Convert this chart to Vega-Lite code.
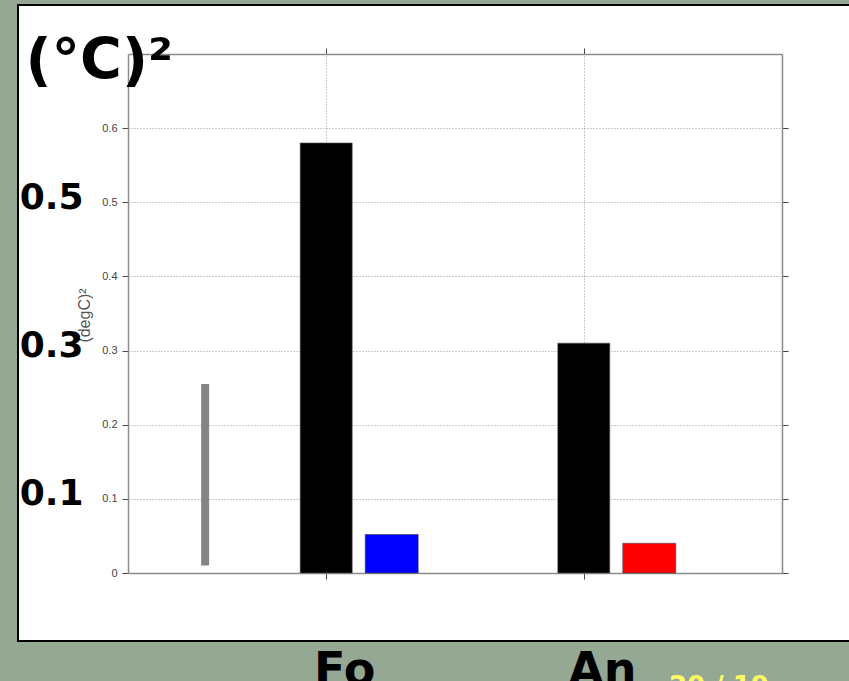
{
  "$schema": "https://vega.github.io/schema/vega-lite/v6.json",
  "width": 835,
  "height": 636,
  "autosize": {"type": "none"},
  "padding": {"left": 18, "top": 5, "right": 0, "bottom": 40},
  "background": "#94a894",
  "config": {
    "view": {"fill": "white", "stroke": "black", "strokeWidth": 2},
    "axis": {"labelOverlap": false, "labelFlush": false}
  },
  "title": {
    "text": "20 / 19",
    "orient": "bottom",
    "anchor": "end",
    "offset": -19,
    "dx": -84,
    "baseline": "top",
    "fontSize": 26,
    "font": "DejaVu Sans",
    "fontWeight": "bold",
    "color": "#ffff66"
  },
  "datasets": {
    "totals": [
      {"region": "Fo", "pos": 1, "value": 0.58},
      {"region": "An", "pos": 2, "value": 0.31}
    ],
    "parts": [
      {"region": "Fo", "pos": 1, "value": 0.052},
      {"region": "An", "pos": 2, "value": 0.04}
    ],
    "spread": [
      {"pos": 0.53, "low": 0.01, "high": 0.255}
    ]
  },
  "layer": [
    {
      "data": {"name": "totals"},
      "mark": {"type": "bar", "size": 52, "color": "#000000", "stroke": "#555555", "strokeWidth": 0.6},
      "encoding": {
        "x": {
          "field": "pos", "type": "quantitative",
          "scale": {"domain": [0.25, 2.75], "range": [110, 764], "nice": false, "zero": false},
          "axis": {
            "orient": "bottom", "offset": -68, "values": [1, 2], "labels": false,
            "ticks": true, "tickSize": 6, "tickColor": "#444444",
            "domain": true, "domainColor": "#8c8c8c", "domainWidth": 1.5,
            "grid": false, "title": null
          }
        },
        "y": {
          "field": "value", "type": "quantitative",
          "scale": {"domain": [0, 0.7], "range": [568, 49], "nice": false, "zero": true},
          "axis": {
            "orient": "left", "offset": -110,
            "values": [0, 0.1, 0.2, 0.3, 0.4, 0.5, 0.6], "format": "~g",
            "labelFontSize": 11, "labelFont": "Liberation Sans", "labelColor": "#444444", "labelPadding": 5,
            "ticks": true, "tickSize": 6, "tickColor": "#444444",
            "domain": true, "domainColor": "#8c8c8c", "domainWidth": 1.5,
            "grid": true, "gridDash": [1, 2], "gridColor": "#999999", "gridWidth": 1,
            "title": "(degC)²", "titleFontSize": 16, "titleFont": "Liberation Sans", "titleFontWeight": "normal",
            "titleColor": "#555555", "titleAngle": -90, "titleX": -36, "titleY": 310, "titleBaseline": "bottom", "titleAlign": "center"
          }
        }
      }
    },
    {
      "data": {"name": "parts"},
      "mark": {"type": "bar", "size": 53, "xOffset": 65.5, "stroke": "#444444", "strokeWidth": 0.6},
      "encoding": {
        "x": {
          "field": "pos", "type": "quantitative",
          "scale": {"domain": [0.25, 2.75], "range": [110, 764], "nice": false, "zero": false},
          "axis": {
            "orient": "top", "offset": -49, "values": [1, 2], "labels": false,
            "ticks": true, "tickSize": 6, "tickColor": "#444444",
            "domain": true, "domainColor": "#8c8c8c", "domainWidth": 1.5,
            "grid": true, "gridDash": [1, 2], "gridColor": "#999999", "gridWidth": 1,
            "title": null
          }
        },
        "y": {
          "field": "value", "type": "quantitative",
          "scale": {"domain": [0, 0.7], "range": [568, 49], "nice": false, "zero": true},
          "axis": {
            "orient": "right", "offset": -71,
            "values": [0, 0.1, 0.2, 0.3, 0.4, 0.5, 0.6], "labels": false,
            "ticks": true, "tickSize": 6, "tickColor": "#444444",
            "domain": true, "domainColor": "#8c8c8c", "domainWidth": 1.5,
            "grid": false, "title": null
          }
        },
        "color": {
          "field": "region", "type": "nominal",
          "scale": {"domain": ["Fo", "An"], "range": ["#0000ff", "#ff0000"]},
          "legend": null
        }
      }
    },
    {
      "data": {"name": "spread"},
      "mark": {"type": "rule", "strokeWidth": 8, "color": "#858585"},
      "encoding": {
        "x": {
          "field": "pos", "type": "quantitative",
          "scale": {"domain": [0.25, 2.75], "range": [110, 764], "nice": false, "zero": false},
          "axis": {
            "orient": "bottom", "offset": -68, "values": [1, 2],
            "labelExpr": "datum.value == 1 ? 'Fo' : 'An'",
            "labelFontSize": 46, "labelFont": "DejaVu Sans", "labelFontWeight": "bold", "labelColor": "#000000",
            "labelPadding": 75, "labelOffset": 18, "labelBaseline": "top", "labelAlign": "center",
            "ticks": false, "tickSize": 0, "domain": false, "grid": false, "title": null
          }
        },
        "y": {
          "field": "low", "type": "quantitative",
          "scale": {"domain": [0, 0.7], "range": [568, 49], "nice": false, "zero": true},
          "axis": {
            "orient": "left", "offset": -110, "values": [0.1, 0.3, 0.5], "format": "~g",
            "labelFontSize": 36, "labelFont": "DejaVu Sans", "labelFontWeight": "bold", "labelColor": "#000000",
            "labelPadding": 45, "labelOffset": -5, "labelBaseline": "middle",
            "ticks": false, "tickSize": 0, "domain": false, "grid": false,
            "title": "(°C)²", "titleFontSize": 57, "titleFont": "DejaVu Sans", "titleFontWeight": "bold",
            "titleColor": "#000000", "titleAngle": 0, "titleAlign": "left", "titleBaseline": "alphabetic",
            "titleX": -103, "titleY": 73
          }
        },
        "y2": {"field": "high"}
      }
    }
  ],
  "resolve": {"axis": {"x": "independent", "y": "independent"}}
}
